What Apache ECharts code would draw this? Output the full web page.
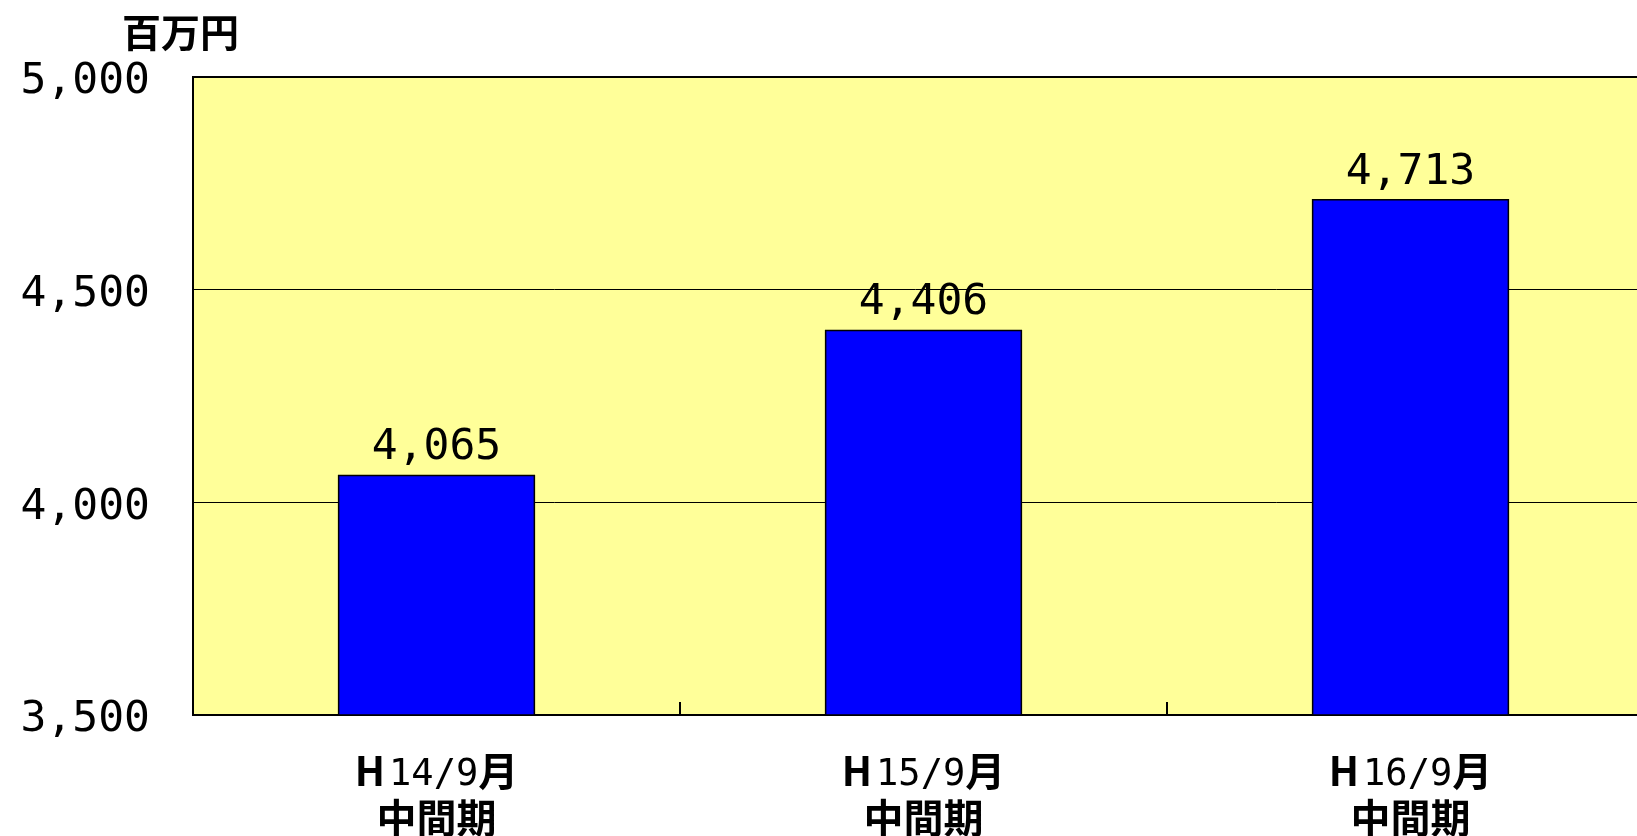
<!DOCTYPE html>
<html>
<head>
<meta charset="utf-8">
<script src="https://cdn.jsdelivr.net/npm/echarts@6/dist/echarts.min.js"></script>
<style>
html,body{margin:0;padding:0;background:#fff;}
#c{width:1637px;height:836px;}
</style>
</head>
<body>
<div id="c"></div>
<script>
const categories = ['H14/9月\n中間期', 'H15/9月\n中間期', 'H16/9月\n中間期'];
const values = [4065, 4406, 4713];
const yTicks = [3500, 4000, 4500, 5000];
const unitLabel = '百万円';

const numFont = '"DejaVu Sans Mono", "Liberation Mono", monospace';
const cjkFont = '"Noto Sans CJK JP", sans-serif';
const fmt = v => v.toLocaleString('en-US');

const chart = echarts.init(document.getElementById('c'));
chart.setOption({
  backgroundColor: '#ffffff',
  animation: false,
  graphic: [{
    type: 'text', left: 122, top: 13,
    style: { text: unitLabel, font: 'bold 39px ' + cjkFont, fill: '#000' }
  }],
  grid: {
    left: 193, top: 77, width: 1461, bottom: 121,
    outerBoundsMode: 'none', containLabel: false,
    show: true, backgroundColor: '#FFFF99', borderColor: '#000', borderWidth: 2
  },
  xAxis: {
    type: 'category',
    data: categories,
    boundaryGap: true,
    axisLine: { show: true, lineStyle: { color: '#000', width: 2 } },
    axisTick: { show: true, inside: true, length: 13, lineStyle: { color: '#000', width: 2 } },
    axisLabel: {
      margin: 32,
      lineHeight: 47,
      formatter: function (v) {
        const lines = v.split('\n');
        const m = lines[0].match(/^(H)(.*?)(月)$/);
        let first = m ? '{b|' + m[1] + '}{n|' + m[2] + '}{b|' + m[3] + '}' : '{b|' + lines[0] + '}';
        return first + '\n{b|' + lines[1] + '}';
      },
      rich: {
        b: { fontFamily: cjkFont, fontWeight: 'bold', fontSize: 40, color: '#000', lineHeight: 47 },
        n: { fontFamily: numFont, fontSize: 37, color: '#000', lineHeight: 47, padding: [10, 0, 0, 4] }
      }
    }
  },
  yAxis: {
    type: 'value',
    min: yTicks[0], max: yTicks[yTicks.length - 1], interval: yTicks[1] - yTicks[0],
    axisLine: { show: true, lineStyle: { color: '#000', width: 2 } },
    axisTick: { show: false },
    splitLine: { show: true, lineStyle: { color: '#000', width: 1 } },
    axisLabel: {
      margin: 43,
      formatter: v => '{a|' + fmt(v) + '}',
      rich: {
        a: { fontFamily: numFont, fontSize: 43, color: '#000', padding: [10, 0, 0, 0] }
      }
    }
  },
  series: [{
    type: 'bar',
    data: values,
    barWidth: '40.5%',
    itemStyle: { color: '#0000FF', borderColor: '#000', borderWidth: 1.5 },
    label: {
      show: true, position: 'top', distance: 5,
      fontFamily: numFont, fontSize: 43, color: '#000',
      formatter: p => fmt(p.value)
    }
  }]
});
</script>
</body>
</html>
